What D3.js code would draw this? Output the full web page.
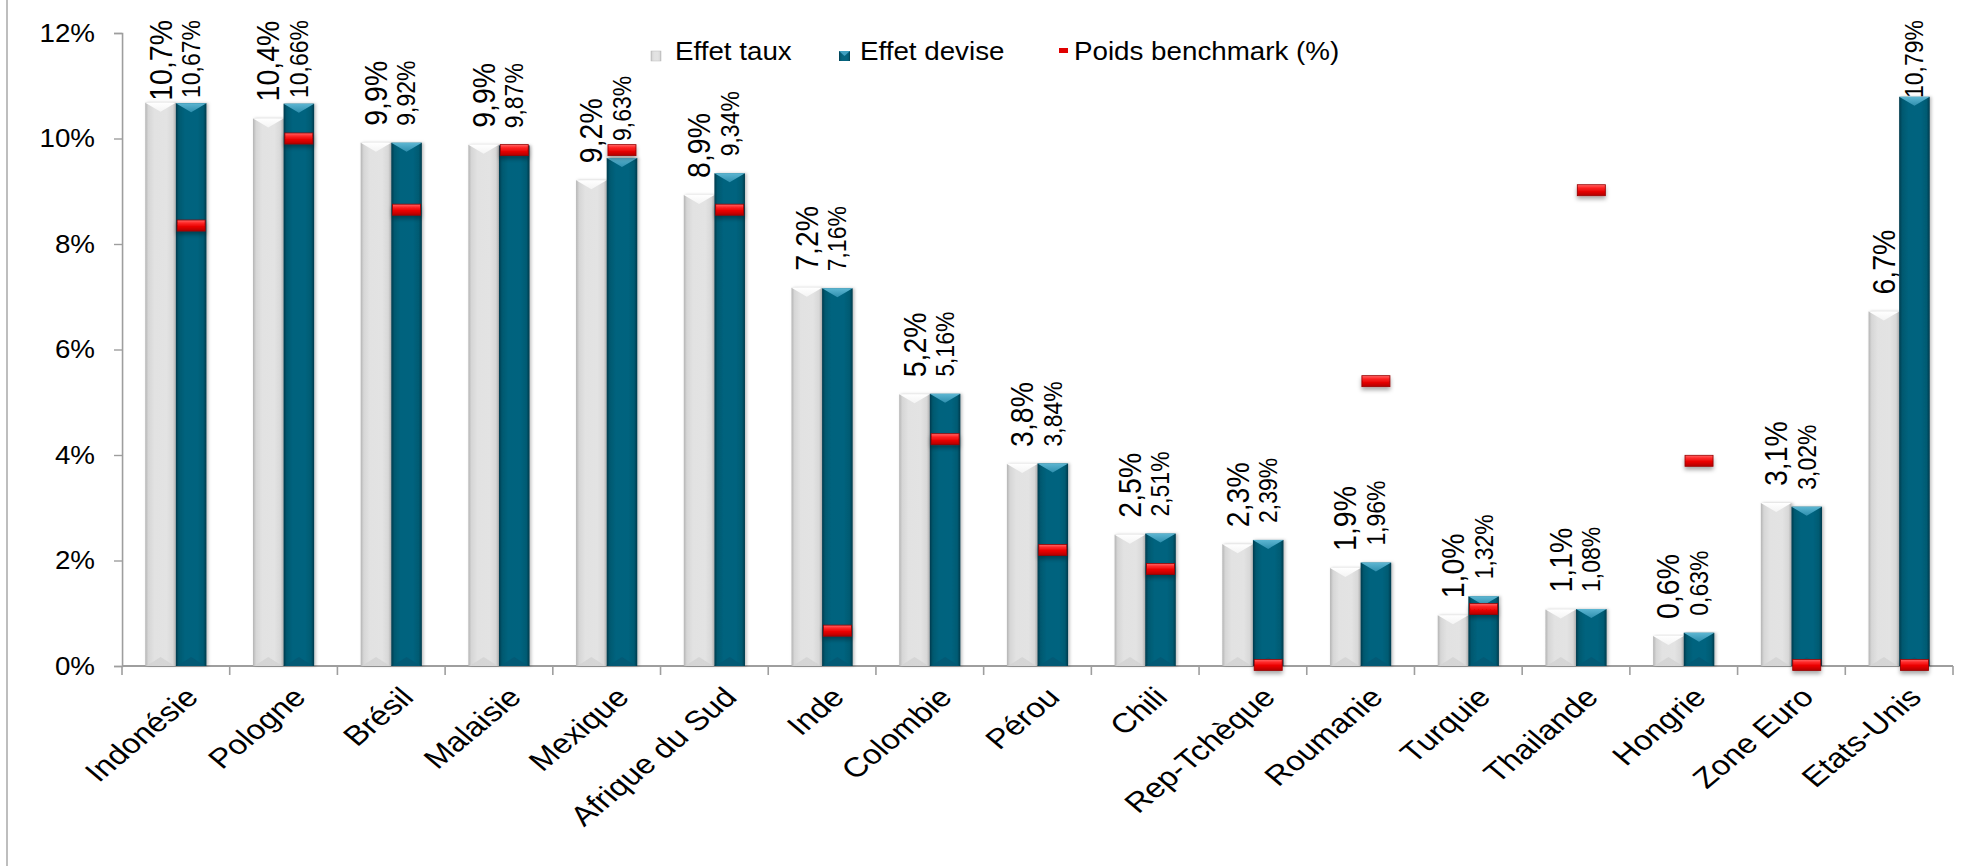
<!DOCTYPE html>
<html>
<head>
<meta charset="utf-8">
<script src="https://cdn.jsdelivr.net/npm/d3@7"></script>
<style>
  html, body { margin: 0; padding: 0; background: #fff; }
  svg { display: block; }
  text { font-family: "Liberation Sans", Arial, sans-serif; fill: #000; }
</style>
</head>
<body>
<svg id="chart" width="1972" height="866"></svg>
<script>
const categories = ["Indonésie", "Pologne", "Brésil", "Malaisie", "Mexique", "Afrique du Sud", "Inde", "Colombie", "Pérou", "Chili", "Rep-Tchèque", "Roumanie", "Turquie", "Thailande", "Hongrie", "Zone Euro", "Etats-Unis"];
const effetTaux = [10.68, 10.38, 9.92, 9.88, 9.21, 8.93, 7.17, 5.15, 3.83, 2.49, 2.31, 1.86, 0.96, 1.07, 0.57, 3.09, 6.72];
const effetDevise = [10.67, 10.66, 9.92, 9.87, 9.63, 9.34, 7.16, 5.16, 3.84, 2.51, 2.39, 1.96, 1.32, 1.08, 0.63, 3.02, 10.79];
const poidsBenchmark = [8.35, 10.0, 8.65, 9.78, 9.78, 8.65, 0.67, 4.3, 2.2, 1.84, 0.02, 5.4, 1.08, 9.02, 3.89, 0.02, 0.02];
const yTicks = [0, 2, 4, 6, 8, 10, 12];
const legendLabels = ["Effet taux", "Effet devise", "Poids benchmark (%)"];

const SX = 1.11;    // horizontal stretch of the original picture
const CAT_SX = 1.2; // stretch seen on the slanted category labels
const W = 1972, H = 866;
const svg = d3.select("#chart");

const defs = svg.append("defs");
function hGrad(id, stops) {
  const g = defs.append("linearGradient").attr("id", id).attr("x1", "0").attr("x2", "1").attr("y1", "0").attr("y2", "0");
  stops.forEach(s => g.append("stop").attr("offset", s[0]).attr("stop-color", s[1]));
}
function vGrad(id, stops) {
  const g = defs.append("linearGradient").attr("id", id).attr("x1", "0").attr("x2", "0").attr("y1", "0").attr("y2", "1");
  stops.forEach(s => g.append("stop").attr("offset", s[0]).attr("stop-color", s[1]));
}
hGrad("grayGrad", [["0%", "#b4b4b4"], ["10%", "#d6d6d6"], ["30%", "#e2e2e2"], ["70%", "#e3e3e3"], ["90%", "#d8d8d8"], ["100%", "#b2b2b2"]]);
hGrad("blueGrad", [["0%", "#023a4c"], ["10%", "#04586f"], ["30%", "#05637e"], ["70%", "#05647f"], ["90%", "#045a72"], ["100%", "#023a4b"]]);
vGrad("grayTop", [["0%", "#ffffff"], ["100%", "#f4f4f4"]]);
vGrad("blueTop", [["0%", "#5db6d2"], ["100%", "#2f8fae"]]);
vGrad("redGrad", [["0%", "#ff6a6a"], ["25%", "#ff2a2a"], ["60%", "#e80000"], ["100%", "#b00000"]]);
const sh = defs.append("filter").attr("id", "shadow").attr("x", "-30%").attr("y", "-30%").attr("width", "160%").attr("height", "200%");
sh.append("feDropShadow").attr("dx", 0).attr("dy", 3).attr("stdDeviation", 2).attr("flood-color", "#000").attr("flood-opacity", 0.35);
const bsh = defs.append("filter").attr("id", "barShadow").attr("x", "-20%").attr("y", "-5%").attr("width", "140%").attr("height", "110%");
bsh.append("feDropShadow").attr("dx", 1.5).attr("dy", 0).attr("stdDeviation", 1.5).attr("flood-color", "#000").attr("flood-opacity", 0.25);

// left frame line (not stretched)
svg.append("line").attr("x1", 7).attr("x2", 7).attr("y1", 0).attr("y2", H)
  .attr("stroke", "#a9a9a9").attr("stroke-width", 1.5);

const g = svg.append("g").attr("transform", `scale(${SX},1)`);

const x0 = 122 / SX, x1 = 1953 / SX;
const y = d3.scaleLinear().domain([0, 12]).range([666, 33]);
const x = d3.scaleBand().domain(categories).range([x0, x1]).paddingInner(0).paddingOuter(0);
const bw = x.bandwidth() * 0.284;

// Y axis
const yAxis = g.append("g").attr("transform", `translate(${x0},0)`)
  .call(d3.axisLeft(y).tickValues(yTicks).tickSize(8 / SX).tickPadding(19 / SX).tickFormat(d => d + "%"));
yAxis.select(".domain").attr("stroke", "#9e9e9e").attr("stroke-width", 1.6 / SX);
yAxis.selectAll(".tick line").attr("stroke", "#9e9e9e").attr("stroke-width", 1.4);
yAxis.selectAll(".tick text").attr("font-size", 25).attr("fill", "#000")
  .attr("font-family", "'Liberation Sans', Arial, sans-serif");

// X axis with ticks at band boundaries
const xAxisG = g.append("g");
xAxisG.append("line").attr("x1", x0).attr("x2", x1).attr("y1", y(0)).attr("y2", y(0))
  .attr("stroke", "#9e9e9e").attr("stroke-width", 1.8);
const bounds = categories.map(c => x(c)).concat([x1]);
xAxisG.selectAll("line.tk").data(bounds).enter().append("line").attr("class", "tk")
  .attr("x1", d => d).attr("x2", d => d).attr("y1", y(0)).attr("y2", y(0) + 9)
  .attr("stroke", "#9e9e9e").attr("stroke-width", 1.6 / SX);

// category labels
xAxisG.selectAll("text.cat").data(categories).enter().append("text").attr("class", "cat")
  .attr("transform", d => `translate(${x(d) + x.bandwidth() / 2 + 24 / SX},${y(0) + 33}) scale(${CAT_SX / SX},1) rotate(-45)`)
  .attr("text-anchor", "end").attr("font-size", 27.5).text(d => d);

// bars
function drawBar(sel, kind) {
  sel.each(function(d) {
    const gg = d3.select(this);
    const top = y(d.v), h = y(0) - top;
    gg.append("rect").attr("x", d.x).attr("y", top).attr("width", bw).attr("height", h)
      .attr("fill", kind === "gray" ? "url(#grayGrad)" : "url(#blueGrad)")
      .attr("filter", "url(#barShadow)");
    const tdepth = Math.min(9, h / 2);
    gg.append("path")
      .attr("d", `M${d.x},${top} L${d.x + bw},${top} L${d.x + bw / 2},${top + tdepth} Z`)
      .attr("fill", kind === "gray" ? "url(#grayTop)" : "url(#blueTop)");
    gg.append("path")
      .attr("d", `M${d.x + 1},${y(0)} L${d.x + bw - 1},${y(0)} L${d.x + bw / 2},${y(0) - tdepth} Z`)
      .attr("fill", kind === "gray" ? "#d2d2d2" : "#045873").attr("opacity", 0.8);
  });
}
const grayData = categories.map((c, i) => ({ c, v: effetTaux[i], x: x(c) + x.bandwidth() / 2 - bw }));
const blueData = categories.map((c, i) => ({ c, v: effetDevise[i], x: x(c) + x.bandwidth() / 2 }));
g.append("g").selectAll("g").data(grayData).enter().append("g").call(drawBar, "gray");
g.append("g").selectAll("g").data(blueData).enter().append("g").call(drawBar, "blue");

// benchmark markers
const mW = 28 / SX, mH = 11;
g.append("g").selectAll("rect").data(categories.map((c, i) => ({ c, v: poidsBenchmark[i] }))).enter()
  .append("rect")
  .attr("x", d => x(d.c) + x.bandwidth() / 2 + bw / 2 - mW / 2)
  .attr("y", d => y(d.v) - mH / 2)
  .attr("width", mW).attr("height", mH)
  .attr("fill", "url(#redGrad)").attr("stroke", "#9a0000").attr("stroke-width", 0.8)
  .attr("filter", "url(#shadow)");

// value labels
const fmt1 = v => d3.format(".1f")(v).replace(".", ",") + "%";
const fmt2 = v => d3.format(".2f")(v).replace(".", ",") + "%";
function drawLabels(data, fsize, fmt) {
  const lg = g.append("g");
  data.forEach(d => {
    const t = lg.append("text").attr("font-size", fsize).attr("text-anchor", "start")
      .attr("dominant-baseline", "central").text(fmt(d.v));
    const len = t.node().getComputedTextLength();
    let bottom = y(d.v) - 17;
    if (bottom - len < 20) bottom = 20 + len;
    t.attr("transform", `translate(${d.x + bw / 2},${bottom}) rotate(-90)`);
  });
}
drawLabels(grayData, 28.5, fmt1);
drawLabels(blueData, 23, fmt2);

// legend
const lgd = g.append("g");
lgd.append("rect").attr("x", 651 / SX).attr("y", 51).attr("width", 10 / SX).attr("height", 10)
  .attr("fill", "url(#grayGrad)").attr("stroke", "#bdbdbd").attr("stroke-width", 0.5);
lgd.append("text").attr("x", 675 / SX).attr("y", 60).attr("font-size", 25).text(legendLabels[0]);
lgd.append("rect").attr("x", 839 / SX).attr("y", 51).attr("width", 11 / SX).attr("height", 10)
  .attr("fill", "url(#blueGrad)");
lgd.append("path").attr("d", `M${839 / SX},51 L${850 / SX},51 L${844.5 / SX},56 Z`).attr("fill", "#3f9fc0");
lgd.append("text").attr("x", 860 / SX).attr("y", 60).attr("font-size", 25).text(legendLabels[1]);
lgd.append("rect").attr("x", 1059 / SX).attr("y", 48).attr("width", 9 / SX).attr("height", 5)
  .attr("fill", "#e00000");
lgd.append("text").attr("x", 1074 / SX).attr("y", 60).attr("font-size", 25).text(legendLabels[2]);
</script>
</body>
</html>
